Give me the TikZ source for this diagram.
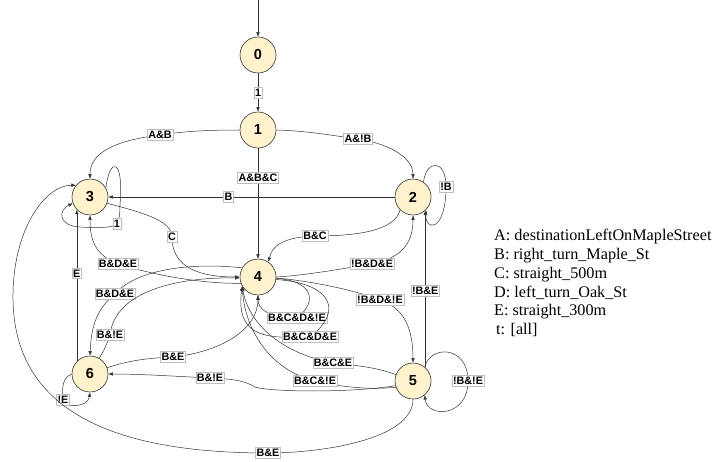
\documentclass[tikz,border=0pt]{standalone}
\usepackage{fontspec}
\setmainfont{Liberation Serif}
\setsansfont{Liberation Sans}
\usetikzlibrary{arrows.meta}
\definecolor{statefill}{HTML}{FFF2CC}

\begin{document}
\begin{tikzpicture}[x=1pt, y=-1pt,
  state/.style={circle, draw=black!80, fill=statefill, line width=.6pt, minimum size=36pt, inner sep=0pt, font=\sffamily\bfseries\fontsize{14.5}{14.5}\selectfont},
  edge/.style={draw=black!80, line width=.5pt, -{Latex[length=4.5pt,width=3.6pt]}},
  lbl/.style={fill=white, draw=black!25, line width=.4pt, inner xsep=1.1pt, inner ysep=1.6pt, font=\sffamily\bfseries\fontsize{10.8}{10.8}\selectfont}]

\useasboundingbox (0,0) rectangle (714,462);

\node [state] (n0) at (258,55) {0};
\node [state] (n1) at (258,130) {1};
\node [state] (n2) at (413,197) {2};
\node [state] (n3) at (90,197) {3};
\node [state] (n4) at (258,277) {4};
\node [state] (n5) at (413,381) {5};
\node [state] (n6) at (90,374) {6};
\coordinate (start) at (258,0);

\draw [edge] (start) -- (n0);
\draw [edge] (n0) -- node [lbl] {1} (n1);
\draw [edge] (n1.west) .. controls (200,130) and (180,132) .. (160,135) node [lbl] {A\&B} .. controls (110,141) and (90,155) .. (n3.north);
\draw [edge] (n1.east) .. controls (310,131) and (335,136) .. (358,139) node [lbl] {A\&!B} .. controls (395,145) and (413,160) .. (n2.north);
\draw [edge] (n1) -- (n4) node [lbl, pos=.27] {A\&B\&C};
\draw [edge] (n2) -- (n3) node [lbl, pos=.58] {B};
\draw [edge] (n2.55) .. controls (426,160) and (446,158) .. (446,187) node [lbl] {!B} .. controls (446,232) and (425,232) .. (n2.-45);
\draw [edge] (n3.30) .. controls (110,156) and (124,158) .. (120,205) .. controls (120,215) and (119,220) .. (117,224) node [lbl] {1} .. controls (112,228) and (100,228) .. (80,227) .. controls (58,226) and (58,210) .. (n3.200);
\draw [edge] (n3.-20) .. controls (140,212) and (172,220) .. (172,237) node [lbl] {C} .. controls (172,262) and (190,277) .. (n4.west);
\draw [edge] (n2.-135) .. controls (395,230) and (360,236) .. (315,236) node [lbl] {B\&C} .. controls (285,237) and (272,245) .. (n4.55);
\draw [edge] (n4.east) .. controls (310,275) and (345,268) .. (372,264) node [lbl] {!B\&D\&E} .. controls (400,258) and (413,245) .. (n2.south);
\draw [edge] (n4.200) .. controls (200,284) and (150,274) .. (118,264) node [lbl] {B\&D\&E} .. controls (95,255) and (90,240) .. (n3.south);
\draw [edge] (n4.150) .. controls (190,262) and (135,270) .. (115,294) node [lbl] {B\&D\&E} .. controls (95,310) and (91,330) .. (n6.north);
\draw [edge] (n6.60) .. controls (105,350) and (108,340) .. (110,335) node [lbl] {B\&!E} .. controls (115,290) and (180,277) .. (n4.183);
\draw [edge] (n6.20) .. controls (130,360) and (150,358) .. (173,357) node [lbl] {B\&E} .. controls (220,352) and (258,330) .. (n4.south);
\draw [edge] (n6.136) -- (n3.-136) node [lbl, pos=.58] {E};
\draw [edge] (n6.west) .. controls (62,378) and (62,388) .. (63,400) node [lbl] {!E} .. controls (64,408) and (88,408) .. (n6.south);
\draw [edge] (n4.-5) .. controls (310,280) and (320,300) .. (297,318) node [lbl] {B\&C\&D\&!E} .. controls (270,318) and (258,310) .. (n4.south);
\draw [edge] (n4.-8) .. controls (330,283) and (345,310) .. (310,337) node [lbl] {B\&C\&D\&E} .. controls (270,338) and (235,340) .. (n4.-150);
\draw [edge] (n4.-3) .. controls (310,281) and (355,290) .. (380,300) node [lbl] {!B\&D\&!E} .. controls (405,308) and (413,330) .. (n5.north);
\draw [edge] (n5.160) .. controls (380,368) and (355,365) .. (333,363) node [lbl] {B\&C\&E} .. controls (290,355) and (250,330) .. (n4.-150);
\draw [edge] (n5.-160) .. controls (370,390) and (340,387) .. (315,381) node [lbl] {B\&C\&!E} .. controls (270,370) and (245,330) .. (n4.-150);
\draw [edge] (n5.48) -- (n2.-48) node [lbl, pos=.49] {!B\&E};
\draw [edge] (n5.50) .. controls (430,345) and (468,345) .. (468,381) node [lbl] {!B\&!E} .. controls (468,418) and (427,418) .. (n5.-50);
\draw [edge] (n5.-165) .. controls (350,393) and (270,392) .. (255,387) .. controls (245,381) and (235,379) .. (210,378) node [lbl] {B\&!E} .. controls (170,376) and (140,374) .. (n6.east);
\draw [edge] (n5.south) .. controls (413,440) and (320,453) .. (268,453) node [lbl] {B\&E} .. controls (130,453) and (15,420) .. (13,300) .. controls (12,230) and (45,185) .. (n3.140);

\node [anchor=north west, inner sep=0pt, align=left, font=\fontsize{16.2}{18.8}\selectfont] (legend) at (494,229) {A: destinationLeftOnMapleStreet\\B: right\_turn\_Maple\_St\\C: straight\_500m\\D: left\_turn\_Oak\_St\\E: straight\_300m\\\hspace{2pt}t: [all]};

\end{tikzpicture}
\end{document}
